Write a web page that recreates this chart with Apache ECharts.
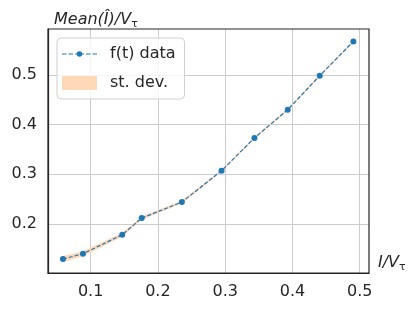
<!DOCTYPE html>
<html>
<head>
<meta charset="utf-8">
<script src="https://cdn.jsdelivr.net/npm/echarts@6/dist/echarts.min.js"></script>
<style>html,body{margin:0;padding:0;background:#fff}#c{width:411px;height:311px}</style>
</head>
<body>
<div id="c"></div>
<script>
const xVals = [0.0588, 0.0886, 0.147, 0.176, 0.2356, 0.2946, 0.3435, 0.393, 0.4406, 0.4906];
const yVals = [0.129, 0.1396, 0.178, 0.2115, 0.2437, 0.307, 0.373, 0.430, 0.4986, 0.5676];
const stdVals = [0.006, 0.005, 0.004, 0.003, 0.003, 0.002, 0.002, 0.002, 0.002, 0.002];
const xTicks = [0.1, 0.2, 0.3, 0.4, 0.5];
const yTicks = [0.2, 0.3, 0.4, 0.5];

const font = 'DejaVu Sans';
const chart = echarts.init(document.getElementById('c'), null, {renderer: 'canvas'});
const bandData = xVals.map((x, i) => [x, yVals[i] - stdVals[i], yVals[i] + stdVals[i]]);

const lineIcon = 'path://M0,0 M35,14 M0,6.4h4.5v1.2h-4.5z M6.5,6.4h4.5v1.2h-4.5z M13,6.4h9v1.2h-9z M24,6.4h4.5v1.2h-4.5z M30.5,6.4h4.5v1.2h-4.5z M20.2,7 A2.7,2.7 0 1,1 14.8,7 A2.7,2.7 0 1,1 20.2,7 Z';

chart.setOption({
  animation: false,
  textStyle: {fontFamily: font},
  grid: {left: 48, right: 42, top: 29, bottom: 38},
  title: {
    text: '{i|Mean(Î)/V}{s|τ}',
    left: 49, top: 5,
    textStyle: {
      fontWeight: 'normal',
      rich: {
        i: {fontFamily: font, fontStyle: 'italic', fontWeight: 'normal', fontSize: 16, color: '#262626'},
        s: {fontFamily: font, fontWeight: 'normal', fontSize: 11, color: '#262626', padding: [9, 0, 0, 0]}
      }
    }
  },
  legend: {
    left: 57, top: 38,
    orient: 'vertical',
    itemGap: 13,
    itemWidth: 35, itemHeight: 14,
    padding: [8, 9, 8, 5],
    backgroundColor: 'rgba(255,255,255,0.8)',
    borderColor: '#d0d0d0', borderWidth: 1, borderRadius: 4,
    textStyle: {fontFamily: font, fontSize: 16, color: '#262626', padding: [0, 0, 0, 8]},
    data: [
      {name: 'f(t) data', icon: lineIcon, itemStyle: {borderWidth: 0}},
      {name: 'st. dev.', icon: 'rect', itemStyle: {borderWidth: 0}}
    ]
  },
  xAxis: {
    type: 'value', min: 0.0366, max: 0.5138,
    name: '{i|I/V}{s|τ}',
    nameLocation: 'end', nameGap: 9,
    nameTextStyle: {
      verticalAlign: 'bottom',
      rich: {
        i: {fontFamily: font, fontStyle: 'italic', fontSize: 16, color: '#262626'},
        s: {fontFamily: font, fontSize: 11, color: '#262626', padding: [9, 0, 0, 0]}
      }
    },
    axisLine: {show: true, onZero: false, lineStyle: {color: '#262626', width: 1.2}},
    axisTick: {show: false, customValues: xTicks},
    axisLabel: {customValues: xTicks, fontSize: 16, color: '#262626', margin: 11, fontFamily: font,
      formatter: v => v.toFixed(1)},
    splitLine: {show: true, lineStyle: {color: '#cccccc', width: 1}}
  },
  yAxis: {
    type: 'value', min: 0.1008, max: 0.5926,
    axisLine: {show: true, onZero: false, lineStyle: {color: '#262626', width: 1.2}},
    axisTick: {show: false, customValues: yTicks},
    axisLabel: {customValues: yTicks, fontSize: 16, color: '#262626', margin: 11, fontFamily: font,
      formatter: v => v.toFixed(1)},
    splitLine: {show: true, lineStyle: {color: '#cccccc', width: 1}}
  },
  graphic: [{
    type: 'rect', shape: {x: 48, y: 29, width: 321, height: 244},
    style: {fill: 'none', stroke: '#262626', lineWidth: 1.2}, silent: true, z: 10
  }],
  series: [
    {
      name: 'st. dev.',
      type: 'custom',
      itemStyle: {color: '#ffd8b8'},
      data: bandData,
      encode: {x: 0, y: [1, 2]},
      renderItem: function (params, api) {
        if (params.dataIndex !== 0) return null;
        const top = [], bot = [];
        for (let i = 0; i < bandData.length; i++) {
          top.push(api.coord([bandData[i][0], bandData[i][2]]));
          bot.push(api.coord([bandData[i][0], bandData[i][1]]));
        }
        return {
          type: 'polygon',
          shape: {points: top.concat(bot.reverse())},
          style: {fill: '#ffd8b8', stroke: 'none'}
        };
      },
      z: 2
    },
    {
      name: 'f(t) data',
      type: 'line',
      data: xVals.map((x, i) => [x, yVals[i]]),
      symbol: 'circle', symbolSize: 6,
      itemStyle: {color: '#1f77b4'},
      lineStyle: {color: '#1f77b4', width: 1.2, type: [4, 2]},
      z: 3
    }
  ]
});
</script>
</body>
</html>
